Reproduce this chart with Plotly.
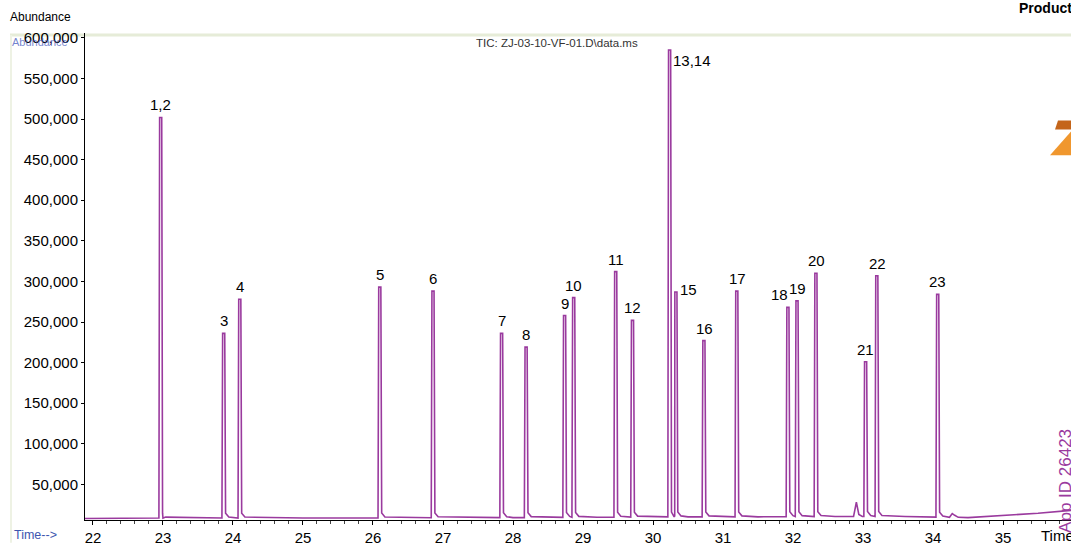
import numpy as np
import plotly.graph_objects as go

# ---- data ----
peak_labels = ["1,2", "3", "4", "5", "6", "7", "8", "9", "10", "11", "12",
               "13,14", "15", "16", "17", "18", "19", "20", "21", "22", "23"]
peak_times = [22.97, 23.87, 24.10, 26.10, 26.86, 27.84, 28.19, 28.74, 28.87,
              29.47, 29.71, 30.24, 30.33, 30.73, 31.20, 31.93, 32.06, 32.33,
              33.04, 33.20, 34.07]
peak_heights = [502000, 236000, 278000, 293000, 288000, 236000, 219000, 258000,
                280000, 312000, 252000, 585000, 287000, 227000, 288000, 268000,
                276000, 310000, 201000, 307000, 284000]

minor_peak_times = [32.90, 34.27]
minor_peak_heights = [28000, 14000]

baseline_times = [21.886, 23.0, 25.0, 28.0, 29.2, 30.5, 31.5, 32.6, 33.6, 34.5, 35.0, 35.5, 35.971]
baseline_values = [8000, 8500, 8500, 9000, 9500, 10000, 10000, 10500, 10500, 9000, 11500, 14500, 18000]

x_tick_values = list(range(22, 36))
y_tick_values = [50000 * k for k in range(1, 13)]

# ---- build the trace (baseline points + peak outlines) ----
pts = list(zip(baseline_times, baseline_values))
for t, h in zip(peak_times, peak_heights):
    b = float(np.interp(t, baseline_times, baseline_values))
    pts += [(t - 0.028, b), (t - 0.018, h), (t + 0.012, h),
            (t + 0.024, b + 6000), (t + 0.07, b + 1200)]
for t, h in zip(minor_peak_times, minor_peak_heights):
    b = float(np.interp(t, baseline_times, baseline_values))
    pts += [(t - 0.035, b), (t - 0.005, h), (t + 0.005, h), (t + 0.04, b + 2500), (t + 0.09, b)]
pts.sort()
tx = [p[0] for p in pts]
ty = [p[1] for p in pts]

W, H = 1071, 546
ML, MR, MT, MB = 85, 0, 33, 23
PW, PH = W - ML - MR, H - MT - MB


def px(x):
    return (x - ML) / PW


def py(y):
    return (H - MB - y) / PH


FONT = "Liberation Sans, Arial, sans-serif"
PURPLE = "#9a3a9e"

fig = go.Figure()
fig.add_trace(go.Scatter(x=tx, y=ty, mode="lines",
                         line=dict(color=PURPLE, width=1.6), hoverinfo="skip",
                         showlegend=False))

annotations = []
for lab, t, h in zip(peak_labels, peak_times, peak_heights):
    a = dict(x=t, y=h, text=lab, showarrow=False, xref="x", yref="y",
             font=dict(family=FONT, size=15, color="black"),
             yanchor="bottom", yshift=2)
    if lab == "13,14":
        a.update(xanchor="left", xshift=1, yanchor="top", yshift=0)
    elif lab == "15":
        a.update(xanchor="left", xshift=2, yanchor="middle", yshift=2)
    elif lab == "18":
        a.update(xanchor="right", xshift=2)
    annotations.append(a)

annotations += [
    dict(x=px(8), y=py(17), xref="paper", yref="paper", text="Abundance",
         showarrow=False, xanchor="left", yanchor="middle",
         font=dict(family=FONT, size=12, color="black")),
    dict(x=px(10), y=py(42), xref="paper", yref="paper", text="Abundance",
         showarrow=False, xanchor="left", yanchor="middle",
         font=dict(family=FONT, size=11, color="rgba(70,90,190,0.75)")),
    dict(x=px(474), y=py(43), xref="paper", yref="paper",
         text="TIC: ZJ-03-10-VF-01.D\\data.ms", showarrow=False,
         xanchor="left", yanchor="middle",
         font=dict(family=FONT, size=11.5, color="#333333")),
    dict(x=px(12), y=py(538), xref="paper", yref="paper", text="Time-->",
         showarrow=False, xanchor="left", yanchor="middle",
         font=dict(family=FONT, size=12.5, color="#3d56b0")),
    dict(x=px(1039), y=py(539), xref="paper", yref="paper", text="Time",
         showarrow=False, xanchor="left", yanchor="middle",
         font=dict(family=FONT, size=15, color="black")),
    dict(x=px(1066), y=py(538), xref="paper", yref="paper", text="App ID 26423",
         showarrow=False, textangle=-90, xanchor="center", yanchor="bottom",
         font=dict(family=FONT, size=17, color=PURPLE)),
    dict(x=px(1017), y=py(8), xref="paper", yref="paper", text="<b>Product</b>",
         showarrow=False, xanchor="left", yanchor="middle",
         font=dict(family=FONT, size=14, color="black")),
]

shapes = [
    dict(type="line", xref="paper", yref="paper", x0=px(10), x1=px(1071),
         y0=py(35), y1=py(35), line=dict(color="#e6ecd8", width=3), layer="below"),
    dict(type="line", xref="paper", yref="paper", x0=px(11), x1=px(11),
         y0=py(35), y1=py(546), line=dict(color="#eef2e4", width=2), layer="below"),
    dict(type="path", xref="paper", yref="paper",
         path=f"M {px(1058)} {py(121)} L {px(1071)} {py(121)} L {px(1071)} {py(130)} L {px(1055)} {py(130)} Z",
         fillcolor="#c4651a", line=dict(width=0), layer="above"),
    dict(type="path", xref="paper", yref="paper",
         path=f"M {px(1050)} {py(156)} L {px(1071)} {py(132)} L {px(1071)} {py(156)} Z",
         fillcolor="#f0972e", line=dict(width=0), layer="above"),
]

fig.update_layout(
    width=W, height=H,
    margin=dict(l=ML, r=MR, t=MT, b=MB, pad=0),
    paper_bgcolor="white", plot_bgcolor="white",
    showlegend=False,
    annotations=annotations,
    shapes=shapes,
    font=dict(family=FONT, color="black"),
    xaxis=dict(range=[21.886, 35.971], tickvals=x_tick_values,
               ticktext=[str(v) for v in x_tick_values],
               showgrid=False, zeroline=False, showline=True, linecolor="black",
               linewidth=1, ticks="outside", ticklen=4, tickcolor="black",
               tickfont=dict(family=FONT, size=15, color="black"),
               minor=dict(dtick=0.2, ticks="outside", ticklen=3, tickcolor="#444444")),
    yaxis=dict(range=[6100, 606000], tickvals=y_tick_values,
               tickformat=",d", showgrid=False, zeroline=False,
               showline=True, linecolor="black", linewidth=1,
               ticks="outside", ticklen=3, tickcolor="black",
               tickfont=dict(family=FONT, size=15, color="black")),
)

fig.write_html("out.html", config={"displayModeBar": False},
               post_script="document.body.style.margin='0';document.body.style.overflow='hidden';")
